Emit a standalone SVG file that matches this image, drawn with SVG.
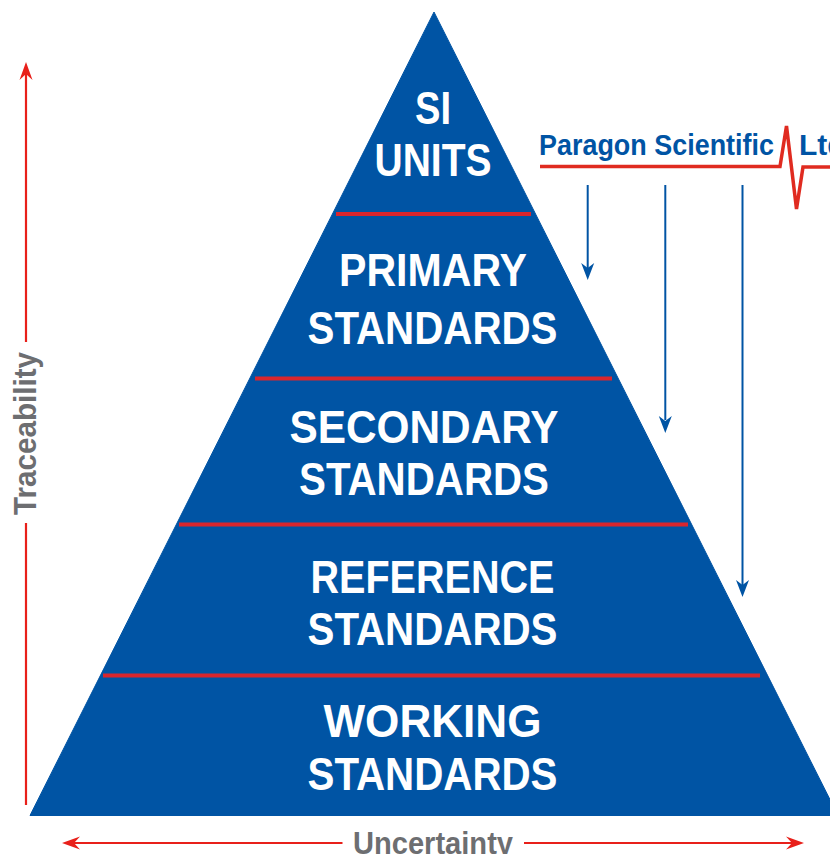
<svg xmlns="http://www.w3.org/2000/svg" width="830" height="854" viewBox="0 0 830 854">
<style>
text{font-family:"Liberation Sans",Arial,sans-serif}
.t{fill:#fff;font-size:47px;font-weight:bold;text-anchor:middle}
.g{fill:#6d6e71;font-size:31px;font-weight:bold;text-anchor:middle}
.b{fill:#0054a4;font-size:30px;font-weight:bold}
.rule{stroke:#d9262e;stroke-width:4;fill:none}
.red{stroke:#e8201a;stroke-width:2.2;fill:none}
.blue{stroke:#0054a4;stroke-width:2;fill:none}
</style>
<defs>
<path id="hb" d="M-6.5-17L0-12L6.500-17L0 0Z" fill="#0054a4"/>
<path id="hr" d="M-6.500 18L0 12L6.500 18L0 0Z" fill="#e8201a"/>
</defs>
<g id="pyramid"><path d="M434 12L838 815.500H30Z" fill="#0054a4" stroke="#0054a4" stroke-width="1" stroke-linejoin="round"/></g>
<g id="si-units"><text class="t" x="433" y="124" textLength="36" lengthAdjust="spacingAndGlyphs">SI</text><text class="t" x="433" y="176" textLength="117" lengthAdjust="spacingAndGlyphs">UNITS</text><line class="rule" x1="336" y1="214" x2="531" y2="214"/></g>
<g id="primary-standards"><text class="t" x="433" y="286" textLength="188" lengthAdjust="spacingAndGlyphs">PRIMARY</text><text class="t" x="432.500" y="344" textLength="250" lengthAdjust="spacingAndGlyphs">STANDARDS</text><line class="rule" x1="255" y1="378.500" x2="612" y2="378.500"/></g>
<g id="secondary-standards"><text class="t" x="424" y="443" textLength="269" lengthAdjust="spacingAndGlyphs">SECONDARY</text><text class="t" x="424" y="495" textLength="250" lengthAdjust="spacingAndGlyphs">STANDARDS</text><line class="rule" x1="179" y1="524.500" x2="688" y2="524.500"/></g>
<g id="reference-standards"><text class="t" x="432.500" y="593" textLength="244" lengthAdjust="spacingAndGlyphs">REFERENCE</text><text class="t" x="432.500" y="645" textLength="250" lengthAdjust="spacingAndGlyphs">STANDARDS</text><line class="rule" x1="103" y1="675.500" x2="760" y2="675.500"/></g>
<g id="working-standards"><text class="t" x="432.500" y="737" textLength="218" lengthAdjust="spacingAndGlyphs">WORKING</text><text class="t" x="432.500" y="790" textLength="250" lengthAdjust="spacingAndGlyphs">STANDARDS</text></g>
<g id="logo"><text class="b" x="539" y="155" textLength="235" lengthAdjust="spacingAndGlyphs">Paragon Scientific</text><text class="b" x="799" y="155">Ltd</text>
<path d="M540 166.500H780L786.500 126L796.500 209L803 167H830" fill="none" stroke="#e02b20" stroke-width="3.500" stroke-linejoin="miter" stroke-miterlimit="3"/></g>
<g id="connectors">
<line class="blue" x1="587.700" y1="185" x2="587.700" y2="268"/><use href="#hb" x="587.700" y="280"/>
<line class="blue" x1="665.300" y1="185" x2="665.300" y2="420"/><use href="#hb" x="665.300" y="433"/>
<line class="blue" x1="742.500" y1="185" x2="742.500" y2="585"/><use href="#hb" x="742.500" y="597"/>
<line class="red" x1="26" y1="72" x2="26" y2="342"/><line class="red" x1="26" y1="523" x2="26" y2="805"/><use href="#hr" x="26" y="62"/>
<line class="red" x1="72" y1="843" x2="342.500" y2="843"/><line class="red" x1="524" y1="843" x2="794" y2="843"/>
<use href="#hr" transform="translate(62 843) rotate(-90)"/><use href="#hr" transform="translate(804 843) rotate(90)"/>
</g>
<g id="traceability"><text class="g" transform="translate(36 433.500) rotate(-90)" textLength="163" lengthAdjust="spacingAndGlyphs">Traceability</text></g>
<g id="uncertainty"><text class="g" x="433" y="854" textLength="160" lengthAdjust="spacingAndGlyphs">Uncertainty</text></g>
</svg>
